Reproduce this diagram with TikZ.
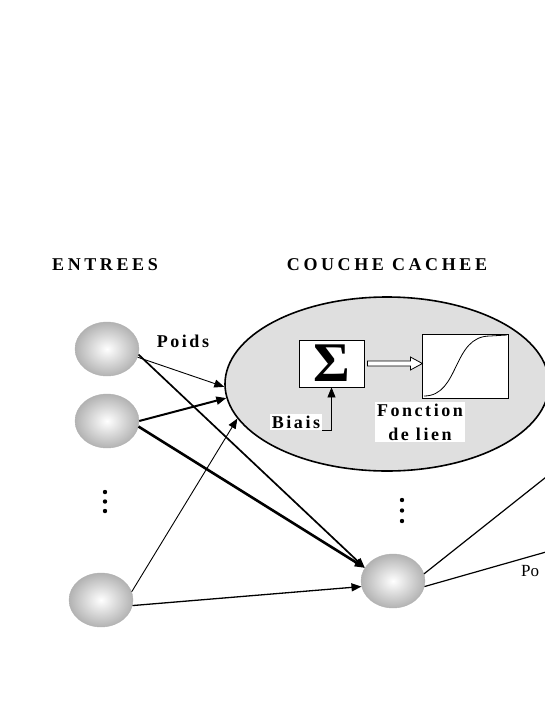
\documentclass[tikz,border=0pt]{standalone}
\usepackage{fontspec}
\setmainfont{Liberation Serif}
\newfontfamily\titrefont{Liberation Serif}[LetterSpace=20]
\newfontfamily\motfont{Liberation Serif}[LetterSpace=14]
\usetikzlibrary{positioning,arrows.meta,shapes.geometric}

\begin{document}
\begin{tikzpicture}[
    x=1pt, y=-1pt,
    neurone/.style={
        ellipse,
        draw=gray!60,
        inner color=white,
        outer color=gray!60,
        minimum width=64pt,
        minimum height=54pt
    },
    boite/.style={
        rectangle,
        draw,
        thick,
        fill=white,
        inner sep=0pt
    },
    titre/.style={
        font=\titrefont\bfseries\fontsize{18}{20}\selectfont
    },
    mot/.style={
        font=\motfont\bfseries\fontsize{18}{24}\selectfont,
        align=center
    },
    poids/.style={
        -{Triangle[length=10pt,width=8pt]}
    }
]
\useasboundingbox (0,0) rectangle (545,705);

\node[titre] (entrees) at (105,265) {ENTREES};
\node[titre] (couche) at (387,265) {COUCHE CACHEE};

% couche cachee
\node[ellipse, draw, line width=1.6pt, fill=gray!25,
      minimum width=324pt, minimum height=174pt] (cachee) at (387,384) {};

\node[boite, minimum width=65pt, minimum height=47pt] (somme) at (331.5,363.5)
{\fontsize{56}{56}\selectfont\bfseries Σ};
\node[boite, minimum width=86pt, minimum height=64pt] (lien) at (465,366) {};
\draw[thick] (424,396) .. controls (460,396) and (452,336) .. (490,336) -- (507,335);

\draw[thick, fill=white, shift={(somme.east)}]
    (3,-2.5) -- (46,-2.5) -- (46,-6.5) -- (58,0) -- (46,6.5) -- (46,2.5) -- (3,2.5) -- cycle;

\node[mot, fill=white, inner sep=2pt] (biais) at (296,422) {Biais};
\draw[thick, poids] (biais.south east) -| (somme.south);
\node[mot, fill=white, inner sep=2pt] (nomlien) at (420,422) {Fonction\\de lien};

% neurones
\node[neurone] (e1) at (107,349) {};
\node[neurone] (e2) at (107,421) {};
\node[neurone] (e3) at (101,600) {};
\node[neurone] (h2) at (393,581) {};

\foreach \y in {492,501.5,511} \fill (105,\y) circle (2.2pt);
\foreach \y in {500,510.5,521} \fill (402,\y) circle (2.2pt);

\node[mot] (poidsnom) at (183,341) {Poids};

% connexions
\draw[poids, line width=0.9pt] (e1.-15) -- (cachee.181);
\draw[poids, line width=1.7pt] (e1.-10) -- (h2.155);
\draw[poids, line width=2pt] (e2.0) -- (cachee.185);
\draw[poids, line width=2.6pt] (e2.-10) -- (h2.155);
\draw[poids, line width=0.9pt] (e3.15) -- (cachee.193);
\draw[poids, line width=1.3pt] (e3.-10) -- (h2.190);

\coordinate (s1) at (560,466);
\coordinate (s2) at (560,548);
\draw[line width=1.2pt] (h2.13) -- (s1);
\draw[line width=1.2pt] (h2.-10) -- (s2);
\node[anchor=west, font=\fontsize{17}{17}\selectfont, inner sep=0pt] (po) at (521,571) {Po};

\end{tikzpicture}
\end{document}
